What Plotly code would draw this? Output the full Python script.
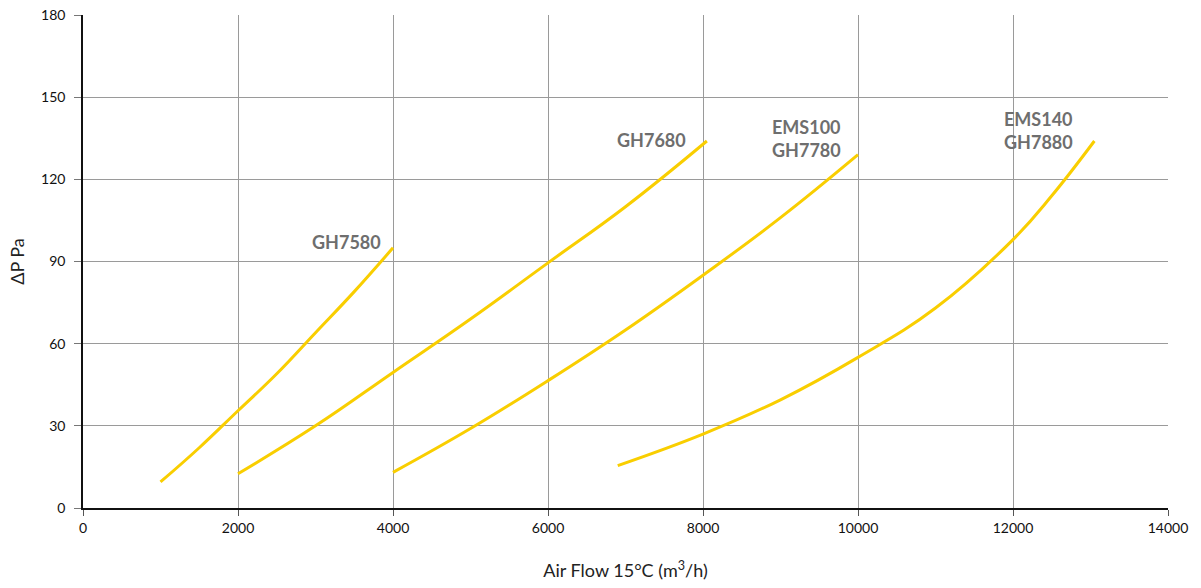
import plotly.graph_objects as go

# Data
gh7580_x = [1000, 1500, 2000, 2500, 3000, 3500, 4000]
gh7580_y = [9.5, 22, 35.5, 49, 64, 79, 95]

gh7680_x = [2000, 3000, 4000, 5000, 6000, 7000, 8050]
gh7680_y = [12.5, 30, 49.5, 69, 89.5, 110, 134]

gh7780_x = [4000, 5000, 6000, 7000, 8000, 9000, 10000]
gh7780_y = [13, 29, 46.5, 65, 85, 106, 129]

gh7880_x = [6900, 8000, 9000, 10000, 11000, 12000, 12500, 13050]
gh7880_y = [15.5, 27, 39.5, 55, 73, 98, 114, 134]

series = [
    ("GH7580", gh7580_x, gh7580_y),
    ("GH7680", gh7680_x, gh7680_y),
    ("EMS100 GH7780", gh7780_x, gh7780_y),
    ("EMS140 GH7880", gh7880_x, gh7880_y),
]

labels = [
    ("GH7580", 3870, 97, "right"),
    ("GH7680", 7800, 134.5, "right"),
    ("EMS100<br>GH7780", 8860, 135, "left"),
    ("EMS140<br>GH7880", 11860, 138, "left"),
]

x_ticks = [0, 2000, 4000, 6000, 8000, 10000, 12000, 14000]
y_ticks = [0, 30, 60, 90, 120, 150, 180]

LINE = "#F9CE00"
FONT = "Lato, 'Noto Sans', sans-serif"

fig = go.Figure()
for name, xs, ys in series:
    fig.add_trace(go.Scatter(x=xs, y=ys, mode="lines", name=name,
                             line=dict(color=LINE, width=3, shape="spline", smoothing=1.2)))

for text, x, y, anchor in labels:
    fig.add_annotation(x=x, y=y, text=text, showarrow=False, xanchor=anchor,
                       yanchor="middle", align="left",
                       font=dict(family=FONT, size=18, color="#6e6e6e", weight="bold"))

fig.update_layout(
    width=1201, height=588,
    margin=dict(l=83, r=33, t=15, b=80, autoexpand=False),
    paper_bgcolor="white", plot_bgcolor="white",
    showlegend=False,
    font=dict(family=FONT, size=14, color="#111"),
    xaxis=dict(range=[0, 14000], tickvals=x_ticks, ticktext=[str(v) for v in x_ticks],
               showgrid=True, gridcolor="#9a9a9a", gridwidth=1,
               showline=True, linecolor="#111", linewidth=1.5,
               ticks="outside", ticklen=6, tickcolor="#555",
               ticklabeloverflow="allow",
               zeroline=False, automargin=False,
               title=dict(text="Air Flow 15°C (m<sup>3</sup>/h)", standoff=30,
                          font=dict(size=18, color="#222"))),
    yaxis=dict(range=[0, 180], tickvals=y_ticks,
               showgrid=True, gridcolor="#9a9a9a", gridwidth=1,
               showline=True, linecolor="#111", linewidth=1.5,
               ticks="outside", ticklen=7, tickcolor="#777",
               ticklabelstandoff=6, ticklabeloverflow="allow",
               zeroline=False, automargin=False,
               title=dict(text="ΔP Pa", standoff=12, font=dict(size=18, color="#222"))),
)

fig.write_html("out.html",
               config={"displayModeBar": False},
               post_script="document.body.style.margin='0';")
